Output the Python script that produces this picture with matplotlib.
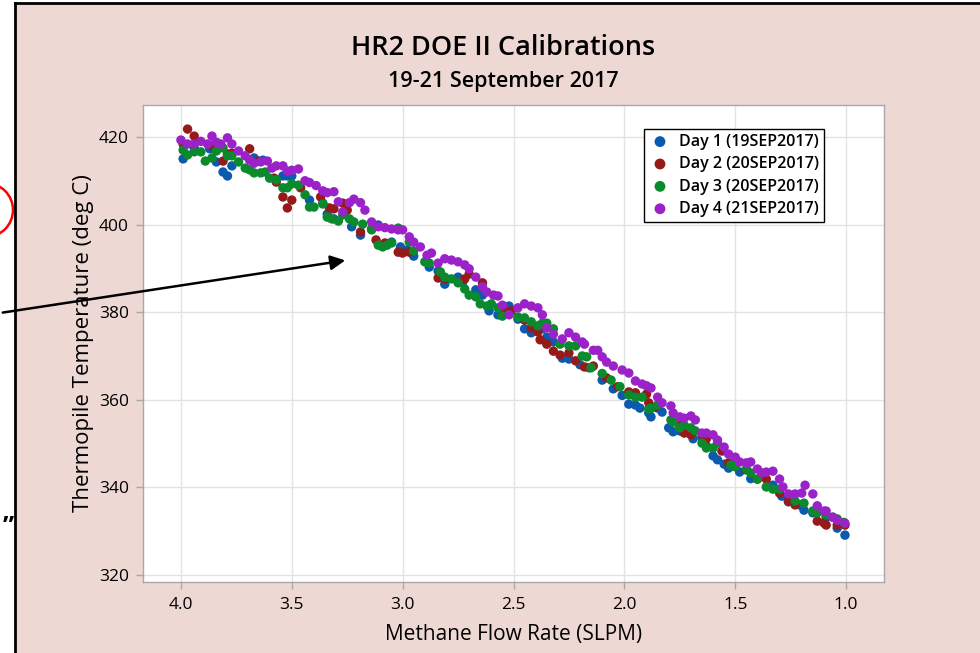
import matplotlib
matplotlib.use("Agg")
import matplotlib.pyplot as plt
from matplotlib.patches import Rectangle, Ellipse, FancyArrowPatch
from matplotlib.lines import Line2D

# ---------------- data ----------------
day1_x = [3.99, 3.94, 3.87, 3.84, 3.81, 3.79, 3.77, 3.67, 3.63, 3.54, 3.52, 3.50, 3.42, 3.36, 3.34, 3.31,
          3.23, 3.19, 3.11, 3.05, 3.01, 2.98, 2.95, 2.88, 2.84, 2.81, 2.75, 2.73, 2.67, 2.64, 2.61, 2.57,
          2.52, 2.48, 2.45, 2.42, 2.37, 2.35, 2.32, 2.28, 2.25, 2.20, 2.16, 2.10, 2.05, 2.01, 1.98, 1.95,
          1.93, 1.89, 1.88, 1.85, 1.83, 1.80, 1.78, 1.75, 1.69, 1.65, 1.63, 1.60, 1.58, 1.55, 1.53, 1.48,
          1.43, 1.33, 1.29, 1.26, 1.21, 1.19, 1.15, 1.09, 1.04, 1.005]
day1_y = [415.0, 417.5, 417.3, 414.3, 412.0, 411.1, 413.4, 415.2, 414.7, 411.1, 411.1, 411.1, 405.6, 404.9, 402.4, 401.3,
          399.5, 397.6, 399.9, 396.0, 394.9, 394.2, 392.8, 390.3, 389.4, 386.4, 388.0, 386.7, 385.1, 383.9, 380.3, 379.4,
          381.4, 378.4, 376.2, 375.3, 376.2, 374.3, 373.2, 369.5, 369.3, 368.0, 367.3, 364.5, 362.5, 361.0, 359.0, 358.8,
          358.1, 357.0, 356.1, 358.1, 357.2, 353.6, 352.7, 352.9, 351.1, 351.3, 349.5, 347.2, 346.3, 345.3, 344.4, 343.5,
          342.0, 340.5, 338.0, 336.7, 336.0, 334.8, 334.2, 333.2, 330.7, 329.1]

day2_x = [3.99, 3.97, 3.94, 3.86, 3.81, 3.79, 3.77, 3.69, 3.65, 3.58, 3.57, 3.54, 3.52, 3.50, 3.46, 3.37,
          3.33, 3.31, 3.27, 3.25, 3.19, 3.14, 3.12, 3.08, 3.02, 3.00, 2.97, 2.84, 2.81, 2.72, 2.70, 2.64,
          2.54, 2.51, 2.45, 2.42, 2.39, 2.38, 2.35, 2.32, 2.29, 2.25, 2.22, 2.18, 2.14, 2.08, 2.03, 1.98,
          1.95, 1.90, 1.89, 1.86, 1.75, 1.73, 1.70, 1.65, 1.63, 1.56, 1.53, 1.50, 1.45, 1.40, 1.36, 1.30,
          1.26, 1.23, 1.13, 1.10, 1.09, 1.04, 1.005]
day2_y = [418.4, 421.8, 420.2, 418.0, 414.5, 416.1, 416.3, 417.3, 414.5, 410.6, 409.7, 406.3, 403.8, 405.6, 408.4, 406.3,
          403.8, 403.6, 404.9, 403.3, 398.3, 399.0, 396.5, 395.8, 393.7, 393.5, 393.7, 387.8, 387.6, 387.6, 388.7, 386.7,
          380.0, 380.3, 378.2, 376.4, 375.5, 373.7, 372.7, 371.1, 370.2, 370.7, 368.9, 367.5, 367.7, 365.0, 363.0, 361.8,
          361.6, 361.3, 359.3, 358.4, 354.2, 352.4, 352.0, 352.0, 351.1, 348.3, 345.6, 345.3, 344.0, 341.9, 341.9, 338.7,
          336.9, 336.0, 332.3, 331.9, 331.4, 331.4, 331.4]

day3_x = [3.99, 3.97, 3.94, 3.91, 3.89, 3.86, 3.84, 3.81, 3.79, 3.77, 3.74, 3.71, 3.69, 3.67, 3.64, 3.62,
          3.60, 3.57, 3.54, 3.52, 3.50, 3.47, 3.44, 3.42, 3.40, 3.36, 3.34, 3.32, 3.29, 3.27, 3.24, 3.22,
          3.18, 3.14, 3.11, 3.09, 3.07, 3.05, 3.02, 2.97, 2.95, 2.90, 2.88, 2.83, 2.81, 2.78, 2.75, 2.72,
          2.70, 2.67, 2.65, 2.62, 2.60, 2.57, 2.55, 2.48, 2.45, 2.42, 2.39, 2.37, 2.35, 2.32, 2.29, 2.25,
          2.22, 2.19, 2.17, 2.15, 2.10, 2.06, 2.02, 1.98, 1.95, 1.92, 1.89, 1.88, 1.85, 1.79, 1.78, 1.75,
          1.73, 1.70, 1.68, 1.65, 1.63, 1.60, 1.58, 1.52, 1.50, 1.45, 1.43, 1.40, 1.36, 1.33, 1.30, 1.23,
          1.19, 1.15, 1.13, 1.09, 1.06, 1.04, 1.01]
day3_y = [417.0, 415.9, 416.6, 416.6, 414.5, 415.2, 416.8, 417.5, 415.7, 415.7, 414.3, 412.9, 412.5, 411.8, 411.8, 412.0,
          410.6, 410.2, 408.4, 408.4, 409.3, 409.0, 406.8, 404.0, 404.0, 404.7, 401.7, 401.3, 400.8, 402.2, 401.3, 400.6,
          400.1, 398.8, 395.3, 394.9, 395.3, 395.8, 399.2, 396.0, 394.0, 391.5, 391.2, 389.2, 388.0, 387.6, 386.7, 385.3,
          383.9, 383.5, 381.9, 381.4, 381.9, 381.0, 379.1, 378.9, 378.7, 377.8, 376.9, 377.5, 377.5, 376.2, 372.7, 372.3,
          372.3, 370.0, 369.8, 367.3, 366.0, 364.5, 363.0, 361.1, 360.6, 360.6, 357.9, 358.1, 358.8, 355.4, 354.9, 353.6,
          354.2, 353.6, 352.9, 350.1, 349.0, 349.0, 350.1, 345.1, 344.7, 344.2, 343.3, 341.9, 340.1, 339.6, 339.6, 336.9,
          336.4, 334.6, 334.2, 333.7, 333.2, 332.8, 332.0]

day4_x = [4.00, 3.97, 3.94, 3.91, 3.88, 3.86, 3.84, 3.82, 3.79, 3.77, 3.74, 3.71, 3.69, 3.67, 3.64, 3.61,
          3.59, 3.57, 3.54, 3.52, 3.50, 3.47, 3.44, 3.42, 3.39, 3.36, 3.34, 3.31, 3.29, 3.27, 3.24, 3.22,
          3.19, 3.17, 3.14, 3.11, 3.08, 3.05, 3.02, 3.00, 2.97, 2.95, 2.92, 2.89, 2.87, 2.84, 2.81, 2.78,
          2.75, 2.72, 2.70, 2.67, 2.64, 2.62, 2.59, 2.57, 2.55, 2.52, 2.48, 2.45, 2.42, 2.39, 2.37, 2.35,
          2.32, 2.28, 2.25, 2.22, 2.19, 2.18, 2.14, 2.12, 2.10, 2.08, 2.05, 2.01, 1.98, 1.95, 1.92, 1.90,
          1.88, 1.85, 1.83, 1.79, 1.78, 1.75, 1.73, 1.70, 1.68, 1.65, 1.63, 1.60, 1.58, 1.55, 1.53, 1.50,
          1.48, 1.45, 1.43, 1.40, 1.38, 1.36, 1.33, 1.30, 1.285, 1.26, 1.23, 1.20, 1.185, 1.15, 1.13, 1.10,
          1.09, 1.06, 1.04, 1.005]
day4_y = [419.3, 418.4, 418.4, 419.0, 418.4, 420.2, 418.8, 418.4, 419.8, 418.4, 416.8, 415.7, 414.7, 414.0, 414.3, 414.5,
          412.9, 413.4, 413.4, 412.2, 412.4, 412.7, 410.0, 409.6, 408.9, 407.7, 407.3, 407.5, 405.2, 402.9, 405.0, 405.8,
          405.0, 403.3, 400.6, 399.5, 399.3, 399.0, 398.8, 398.8, 397.2, 396.0, 394.9, 393.0, 393.5, 391.2, 392.2, 391.9,
          391.5, 390.8, 389.9, 388.0, 385.8, 384.6, 383.9, 383.7, 381.6, 379.4, 381.0, 381.9, 381.4, 381.0, 379.4, 376.4,
          375.0, 373.9, 375.3, 374.3, 373.2, 372.7, 371.3, 371.3, 369.8, 368.6, 367.7, 366.8, 366.1, 364.3, 363.6, 363.2,
          362.7, 360.6, 359.3, 358.6, 357.0, 356.1, 355.8, 356.3, 355.4, 352.4, 352.4, 352.0, 350.8, 349.2, 347.6, 346.9,
          345.8, 345.6, 345.8, 344.2, 343.3, 343.5, 343.7, 341.9, 340.1, 338.5, 338.5, 338.7, 340.5, 338.5, 335.8, 334.6,
          334.6, 333.2, 332.5, 331.8]

series_labels = ["Day 1 (19SEP2017)", "Day 2 (20SEP2017)", "Day 3 (20SEP2017)", "Day 4 (21SEP2017)"]
series_colors = ["#0B5AAE", "#961A1A", "#0A8A2C", "#9A22C8"]
x_ticks = [4.0, 3.5, 3.0, 2.5, 2.0, 1.5, 1.0]
y_ticks = [320, 340, 360, 380, 400, 420]

title_text = "HR2 DOE II Calibrations"
subtitle_text = "19-21 September 2017"
x_label = "Methane Flow Rate (SLPM)"
y_label = "Thermopile Temperature (deg C)"

# ---------------- figure ----------------
W, H = 980, 653
plt.rcParams['font.family'] = ['Open Sans', 'DejaVu Sans']
fig = plt.figure(figsize=(W / 100, H / 100), dpi=100, facecolor="white")

def fx(px):
    return px / W

def fy(py):
    return 1 - py / H

PINK = "#EED8D3"
fig.add_artist(Rectangle((fx(15), 0), 1 - fx(15), fy(3), transform=fig.transFigure,
                         facecolor=PINK, edgecolor="none", zorder=0))
fig.add_artist(Line2D([fx(15), 1], [fy(3), fy(3)], transform=fig.transFigure, color="black", lw=2))
fig.add_artist(Line2D([fx(15), fx(15)], [0, fy(3)], transform=fig.transFigure, color="black", lw=2))

ax = fig.add_axes([fx(143), fy(582), fx(884) - fx(143), fy(105) - fy(582)])
ax.set_facecolor("white")

series = [(day1_x, day1_y), (day2_x, day2_y), (day3_x, day3_y), (day4_x, day4_y)]
for (xs, ys), lab, col in zip(series, series_labels, series_colors):
    ax.scatter(xs, ys, s=46, color=col, label=lab, edgecolors="none", zorder=3)

ax.set_xlim(4.171, 0.829)
ax.set_ylim(318.4, 427.3)
ax.set_xticks(x_ticks)
ax.set_xticklabels([f"{v:.1f}" for v in x_ticks])
ax.set_yticks(y_ticks)
ax.set_yticklabels([str(v) for v in y_ticks])
ax.grid(True, color="#E3E3E3", lw=1, zorder=0)
ax.set_axisbelow(True)
for sp in ax.spines.values():
    sp.set_color("#A8A8A8")
    sp.set_linewidth(1)
ax.tick_params(axis="both", colors="#A8A8A8", length=5, width=1, labelcolor="black", labelsize=12.5)
ax.tick_params(axis="x", pad=6)
ax.tick_params(axis="y", pad=5)

ax.set_xlabel(x_label, fontsize=15, labelpad=8)
ax.set_ylabel(y_label, fontsize=16, labelpad=4)

fig.text(fx(503), fy(48), title_text, ha="center", va="center", fontsize=19.5, fontweight="semibold")
fig.text(fx(503), fy(81), subtitle_text, ha="center", va="center", fontsize=15.5, fontweight="semibold")

leg = ax.legend(loc="upper left", bbox_to_anchor=(fx(644), fy(129)), bbox_transform=fig.transFigure,
                borderaxespad=0, frameon=True, fancybox=False, edgecolor="black", framealpha=1,
                fontsize=11.5, handletextpad=0.5, borderpad=0.3, labelspacing=0.4, markerscale=1.15,
                handlelength=1.4)
leg.get_frame().set_linewidth(1)
for t in leg.get_texts():
    t.set_fontweight("semibold")

# annotation overlays outside the chart
fig.add_artist(Ellipse((fx(-14), fy(210)), 54 / W, 54 / H, transform=fig.transFigure,
                       facecolor="none", edgecolor="red", lw=1.8, clip_on=False))
fig.add_artist(FancyArrowPatch((fx(0), fy(313)), (fx(348), fy(260)), transform=fig.transFigure,
                               arrowstyle="-|>", mutation_scale=22, color="black", lw=1.8))
fig.text(fx(8), fy(527), "\u201d", ha="center", va="center", fontsize=18, fontweight="bold", color="black")

fig.savefig("out.png", dpi=100, facecolor=fig.get_facecolor())
